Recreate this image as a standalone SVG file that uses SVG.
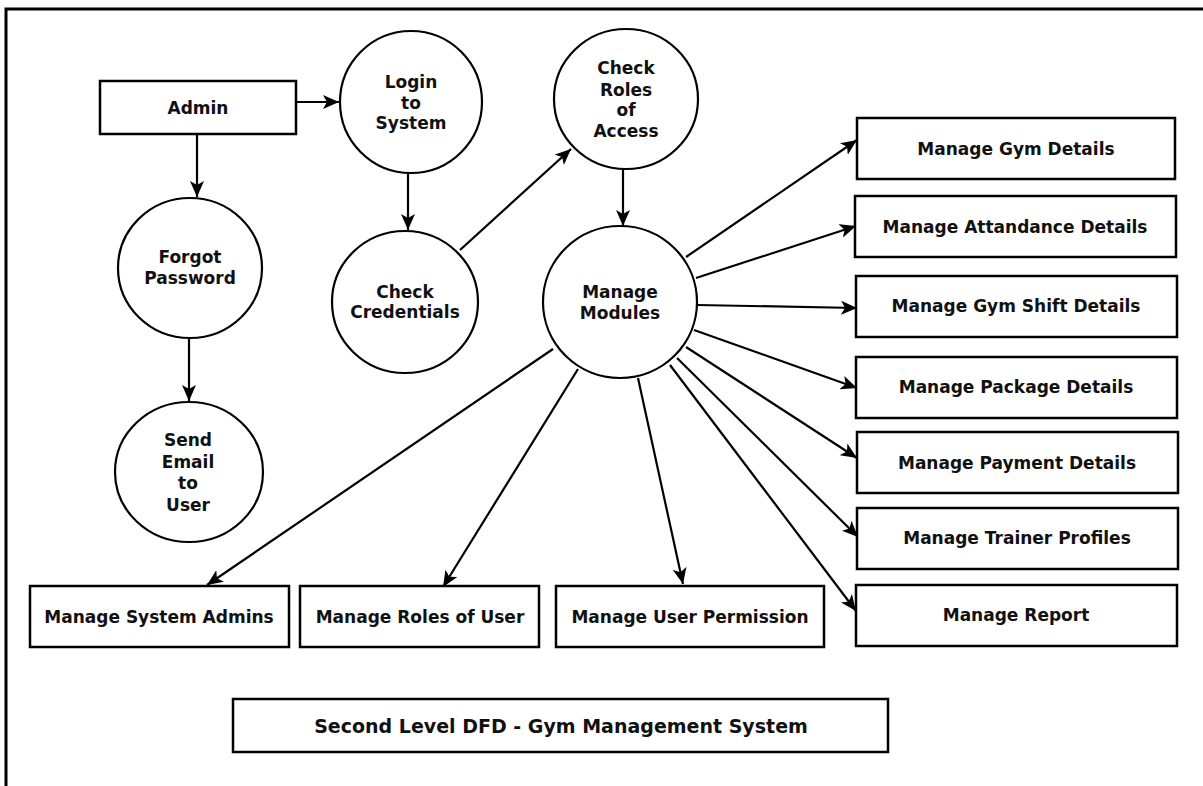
<svg xmlns="http://www.w3.org/2000/svg" width="1203" height="786" viewBox="0 0 1203 786">
<style>
.b{fill:#fff;stroke:#000;stroke-width:2.5}
.c{fill:#fff;stroke:#000;stroke-width:2.2}
.t{font-family:"DejaVu Sans",sans-serif;font-weight:bold;font-size:17px;fill:#111;text-anchor:middle;dominant-baseline:central}
.tt{font-size:19px}
.e{fill:none;stroke:#000;stroke-width:2.2;marker-end:url(#ah)}
</style>
<defs>
<marker id="ah" markerUnits="userSpaceOnUse" markerWidth="18" markerHeight="14" refX="16" refY="7" orient="auto" viewBox="0 0 18 14">
<path d="M0,0 L16,7 L0,14 L4,7 z" fill="#000"/>
</marker>
</defs>
<rect x="0" y="0" width="1203" height="786" fill="#fff"/>
<path d="M6,786 V9 H1203" fill="none" stroke="#000" stroke-width="3"/>

<g id="connectors">
<line class="e" x1="296" y1="102" x2="339" y2="102"/>
<line class="e" x1="197" y1="134" x2="197" y2="197"/>
<line class="e" x1="189" y1="338" x2="189" y2="401"/>
<line class="e" x1="408" y1="173" x2="408" y2="230"/>
<line class="e" x1="460" y1="250" x2="571" y2="149"/>
<line class="e" x1="623" y1="169" x2="623" y2="226"/>
<line class="e" x1="686" y1="257" x2="857" y2="140"/>
<line class="e" x1="696" y1="278" x2="856" y2="226"/>
<line class="e" x1="697" y1="305" x2="857" y2="308"/>
<line class="e" x1="694" y1="330" x2="857" y2="388"/>
<line class="e" x1="686" y1="347" x2="857" y2="458"/>
<line class="e" x1="677" y1="358" x2="858" y2="537"/>
<line class="e" x1="670" y1="365" x2="856" y2="611"/>
<line class="e" x1="638" y1="378" x2="683" y2="584"/>
<line class="e" x1="578" y1="369" x2="443" y2="587"/>
<line class="e" x1="553" y1="349" x2="207" y2="585"/>
</g>

<g id="admin"><rect class="b" x="100" y="81" width="196" height="53"/><text class="t" x="198" y="108">Admin</text></g>
<g id="login"><circle class="c" cx="411" cy="102" r="71"/><text class="t" x="411" y="82">Login</text><text class="t" x="411" y="103">to</text><text class="t" x="411" y="123">System</text></g>
<g id="forgot"><ellipse class="c" cx="190" cy="268" rx="72" ry="70"/><text class="t" x="190" y="257">Forgot</text><text class="t" x="190" y="278">Password</text></g>
<g id="send"><ellipse class="c" cx="189" cy="472" rx="74" ry="70"/><text class="t" x="188" y="440">Send</text><text class="t" x="188" y="462">Email</text><text class="t" x="188" y="483">to</text><text class="t" x="188" y="505">User</text></g>
<g id="credentials"><ellipse class="c" cx="405" cy="302" rx="73" ry="71"/><text class="t" x="405" y="292">Check</text><text class="t" x="405" y="312">Credentials</text></g>
<g id="roles"><ellipse class="c" cx="626" cy="99" rx="72" ry="70"/><text class="t" x="626" y="68">Check</text><text class="t" x="626" y="90">Roles</text><text class="t" x="626" y="110">of</text><text class="t" x="626" y="131">Access</text></g>
<g id="modules"><ellipse class="c" cx="620" cy="302" rx="77" ry="76"/><text class="t" x="620" y="292">Manage</text><text class="t" x="620" y="313">Modules</text></g>

<g id="gym"><rect class="b" x="857" y="118" width="318" height="61"/><text class="t" x="1016" y="149">Manage Gym Details</text></g>
<g id="attendance"><rect class="b" x="855" y="196" width="321" height="61"/><text class="t" x="1015" y="227">Manage Attandance Details</text></g>
<g id="shift"><rect class="b" x="856" y="276" width="321" height="61"/><text class="t" x="1016" y="306">Manage Gym Shift Details</text></g>
<g id="package"><rect class="b" x="856" y="357" width="321" height="61"/><text class="t" x="1016" y="387">Manage Package Details</text></g>
<g id="payment"><rect class="b" x="857" y="432" width="321" height="61"/><text class="t" x="1017" y="463">Manage Payment Details</text></g>
<g id="trainer"><rect class="b" x="857" y="508" width="321" height="61"/><text class="t" x="1017" y="538">Manage Trainer Profiles</text></g>
<g id="report"><rect class="b" x="856" y="585" width="321" height="61"/><text class="t" x="1016" y="615">Manage Report</text></g>

<g id="sysadmins"><rect class="b" x="30" y="586" width="259" height="61"/><text class="t" x="159" y="617">Manage System Admins</text></g>
<g id="userroles"><rect class="b" x="300" y="586" width="239" height="61"/><text class="t" x="420" y="617">Manage Roles of User</text></g>
<g id="permission"><rect class="b" x="556" y="586" width="268" height="61"/><text class="t" x="690" y="617">Manage User Permission</text></g>
<g id="title"><rect class="b" x="233" y="699" width="655" height="53"/><text class="t tt" x="561" y="726">Second Level DFD - Gym Management System</text></g>
</svg>
